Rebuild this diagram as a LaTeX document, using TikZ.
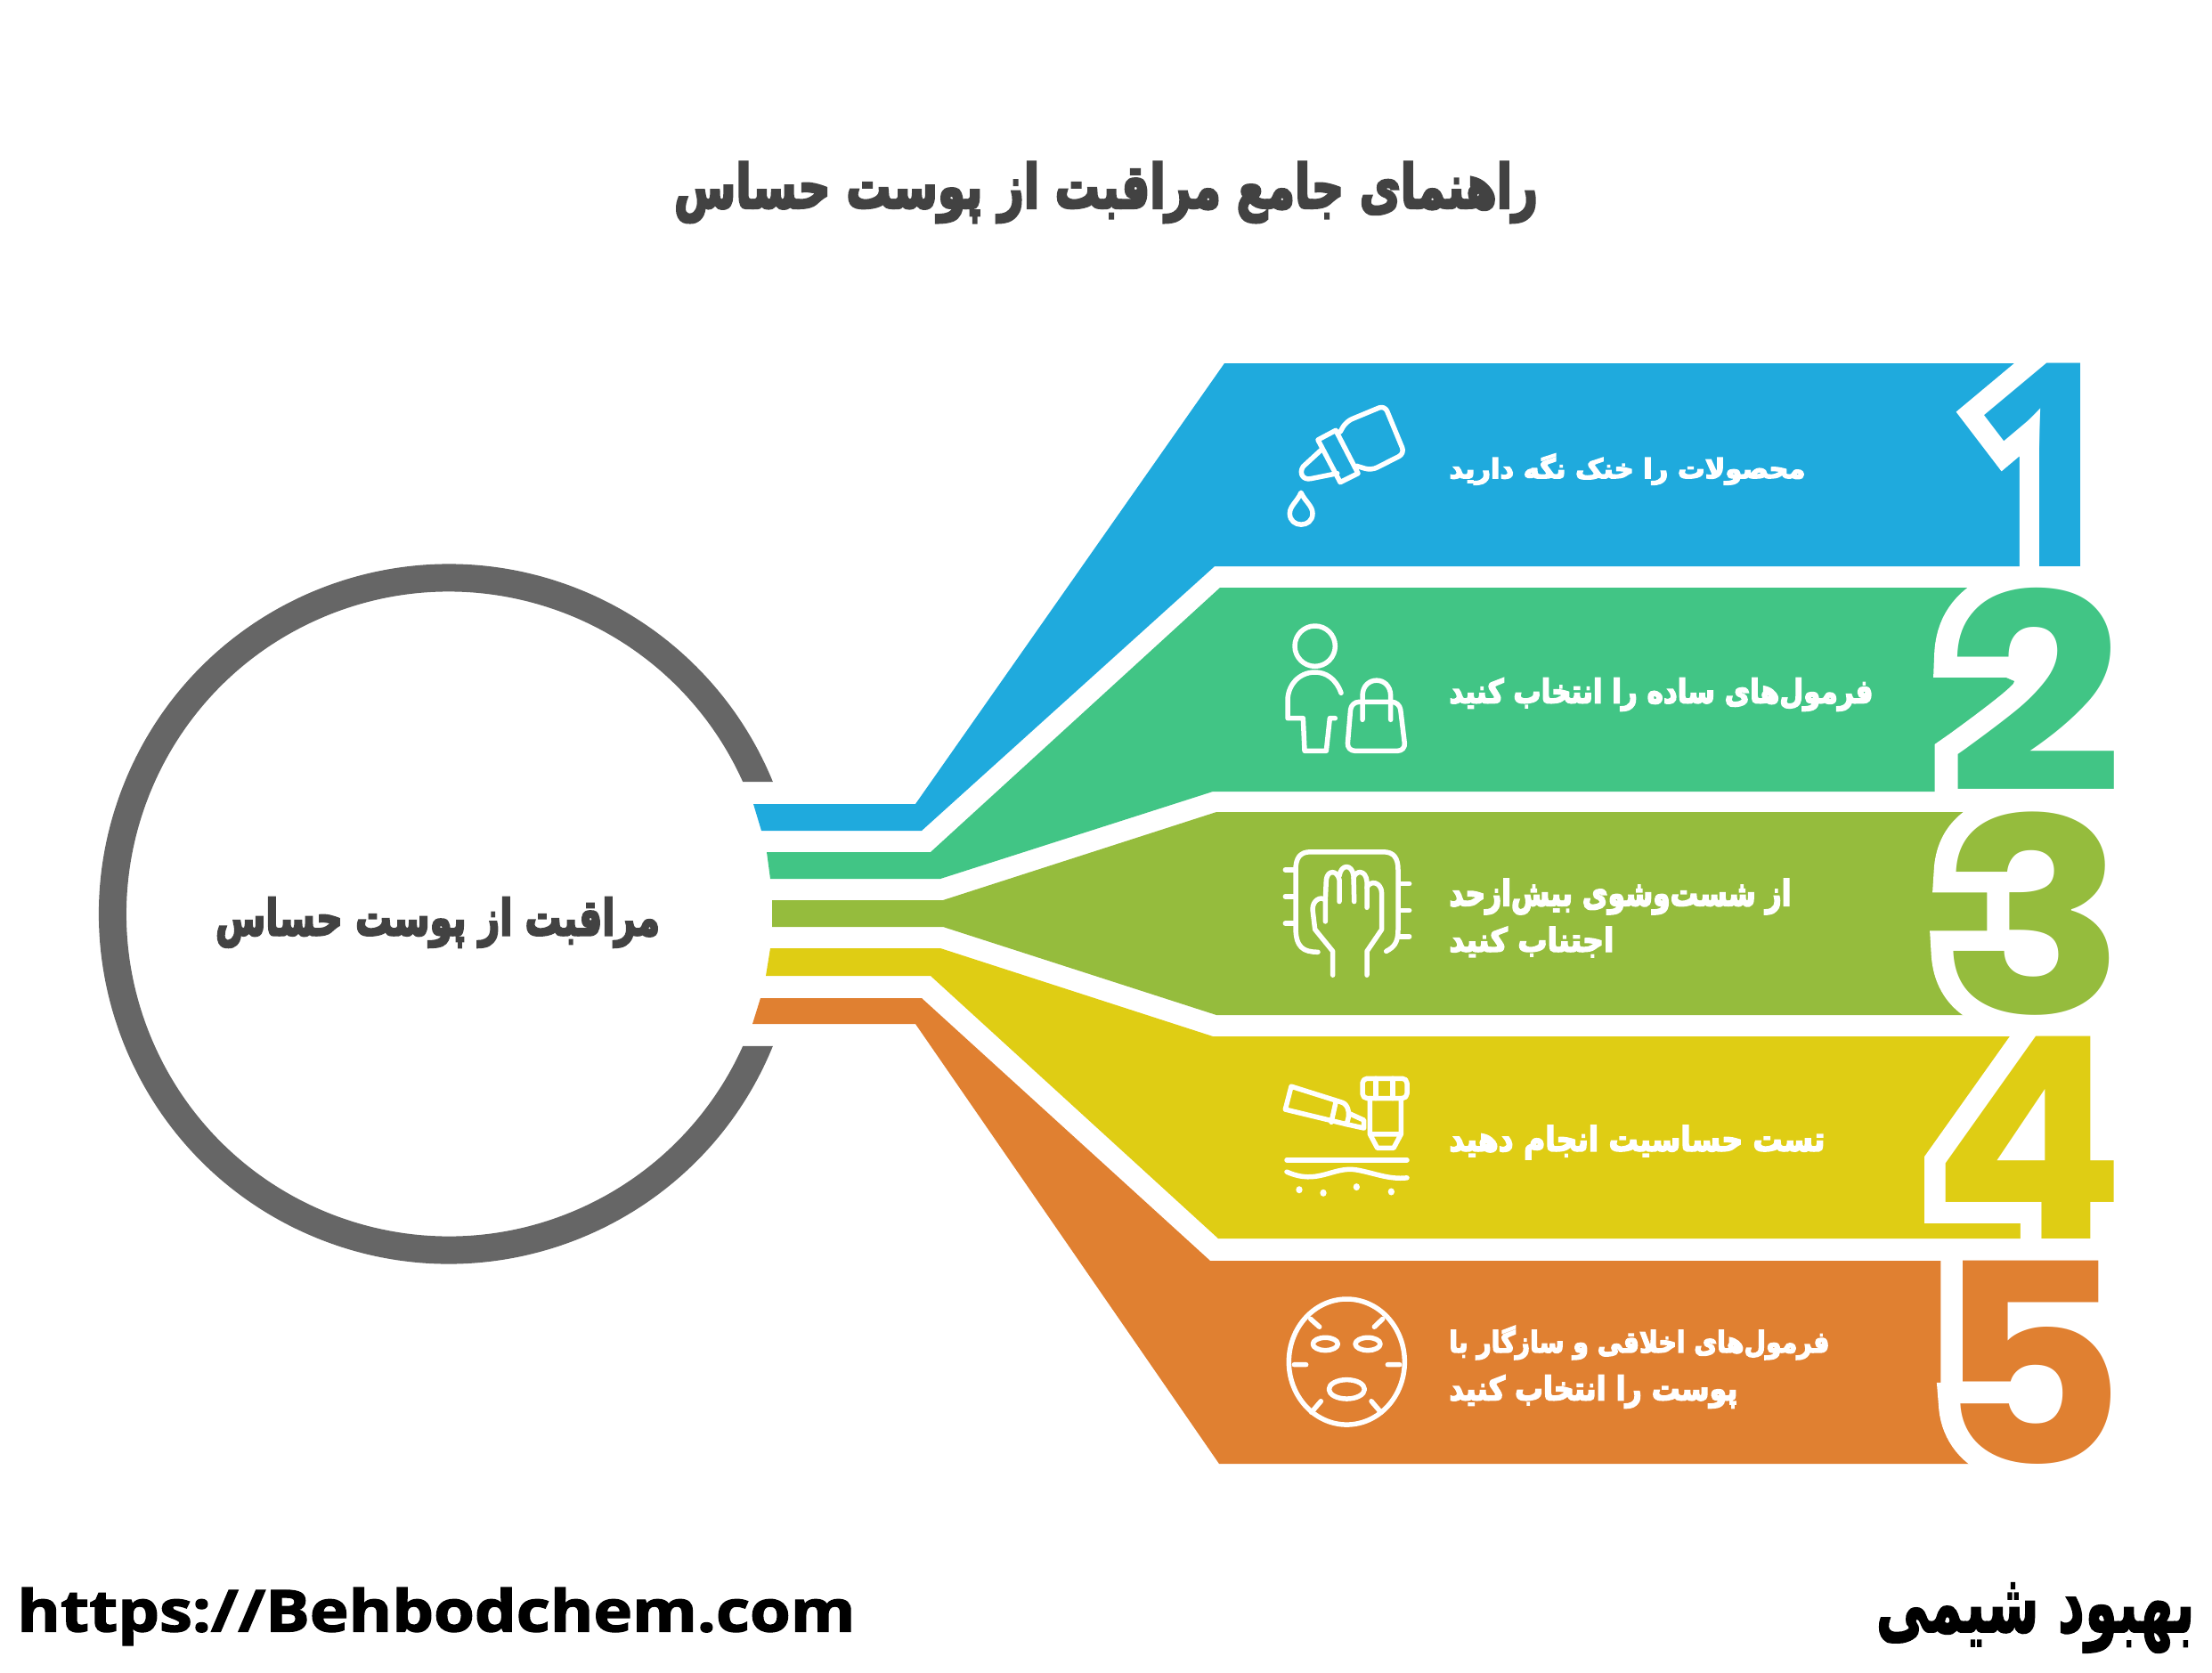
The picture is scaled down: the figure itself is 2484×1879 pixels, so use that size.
\documentclass[tikz,border=0pt]{standalone}
\usepackage{fontspec,graphicx,xcolor}
\usetikzlibrary{calc}
\TeXXeTstate=1
\newfontfamily\fafont[Script=Arabic,BoldFeatures={FakeBold=4.5}]{DejaVu Sans}
\newfontfamily\brandfont[Script=Arabic,BoldFeatures={FakeBold=1.5}]{DejaVu Sans}
\newfontfamily\urlfont[BoldFeatures={FakeBold=2}]{Open Sans}
\newfontfamily\onefont{Open Sans}
\newfontfamily\oneline[BoldFeatures={FakeBold=15}]{Open Sans}
\newfontfamily\numfont{Poppins}
\newfontfamily\numline[BoldFeatures={FakeBold=15}]{Poppins}
\definecolor{bandblue}{HTML}{1FAADD}
\definecolor{bandgreen}{HTML}{41C585}
\definecolor{bandolive}{HTML}{95BC3D}
\definecolor{bandyellow}{HTML}{DFCD14}
\definecolor{bandorange}{HTML}{E08031}
\definecolor{ringgray}{HTML}{666666}
\definecolor{titledark}{HTML}{424242}
\newlength{\pxu}
\setlength{\pxu}{0.02cm}
\newcommand{\fatxt}[3]{\resizebox*{#1\pxu}{#2\pxu}{\fafont\bfseries #3}}
\newcommand{\stepnum}[7]{% name, x, y, width, height, colour, digit
	\node[numnode, white] (#1o) at (#2,#3) {\resizebox*{#4\pxu}{#5\pxu}{\numline\bfseries #7}};
	\node[numnode, #6] (#1) at (#2,#3) {\resizebox*{#4\pxu}{#5\pxu}{\numfont\bfseries #7}};
}
\tikzset{
	numnode/.style={inner sep=0pt, outer sep=0pt},
	bandlabel/.style={inner sep=0pt, anchor=west, text=white},
	iconline/.style={draw=white, line width=5.5\pxu, line cap=round, line join=round},
}

\begin{document}
\begin{tikzpicture}[x=0.02cm, y=-0.02cm]
	\useasboundingbox (0,0) rectangle (2484,1879);

	\node[inner sep=0pt, text=titledark] (title) at (1242,216) {\fatxt{970}{68}{\beginR راهنمای جامع مراقبت از پوست حساس\endR}};

	% ring round the topic
	\coordinate (hub) at (504,1026.5);
	\fill[ringgray] ($(hub)+(22.2:393)$) arc[start angle=22.2, end angle=337.8, radius=393] -- ($(hub)+(-24.2:362)$) arc[start angle=335.8, end angle=24.2, radius=362] -- cycle;
	\node[inner sep=0pt, text=titledark] (topic) at (491.5,1036) {\fatxt{499}{56}{\beginR مراقبت از پوست حساس\endR}};

	% bands
	\fill[bandblue] (846,903) -- (1028,903) -- (1375,408) -- (2337,408) -- (2337,636) -- (1364,636) -- (1035,933) -- (855,933) -- cycle;
	\fill[bandgreen] (861,957) -- (1045,957) -- (1370,660) -- (2240,660) -- (2215,745) -- (2262,765) -- (2225,850) -- (2225,889) -- (1362,889) -- (1056,987) -- (865,987) -- cycle;
	\fill[bandolive] (867,1011) -- (1059,1011) -- (1366,912) -- (2240,912) -- (2215,990) -- (2260,1010) -- (2260,1040) -- (2210,1060) -- (2210,1100) -- (2230,1140) -- (1366,1140) -- (1059,1041) -- (867,1041) -- cycle;
	\fill[bandyellow] (865,1065) -- (1056,1065) -- (1362,1164) -- (2275,1164) -- (2200,1320) -- (2200,1365) -- (2290,1365) -- (2290,1391) -- (1368,1391) -- (1045,1096) -- (860,1096) -- cycle;
	\fill[bandorange] (854,1121) -- (1035,1121) -- (1359,1416) -- (2220,1416) -- (2215,1560) -- (2215,1590) -- (2225,1644) -- (1369,1644) -- (1028,1150) -- (845,1150) -- cycle;

	% digits
	\node[numnode, white] (num1o) at (2298,522) {\resizebox*{174\pxu}{228\pxu}{\oneline\bfseries 1}};
	\node[numnode, bandblue] (num1) at (2298,522) {\resizebox*{174\pxu}{228\pxu}{\onefont\bfseries 1}};
	\stepnum{num2}{2285}{774.5}{199}{229}{bandgreen}{2}
	\stepnum{num3}{2284}{1026}{208}{228}{bandolive}{3}
	\stepnum{num4}{2278}{1277.5}{217}{227}{bandyellow}{4}
	\stepnum{num5}{2280}{1530}{212}{228}{bandorange}{5}

	% labels
	\node[bandlabel] (label1) at (1627,527) {\fatxt{400}{35}{\beginR محصولات را خنک نگه دارید\endR}};
	\node[bandlabel] (label2) at (1627,780) {\fatxt{476}{37}{\beginR فرمول‌های ساده را انتخاب کنید\endR}};
	\node[bandlabel] (label3a) at (1627,1007) {\fatxt{384}{40}{\beginR از شست‌وشوی بیش‌ازحد\endR}};
	\node[bandlabel] (label3b) at (1627,1058) {\fatxt{185}{34}{\beginR اجتناب کنید\endR}};
	\node[bandlabel] (label4) at (1627,1283) {\fatxt{422}{38}{\beginR تست حساسیت انجام دهید\endR}};
	\node[bandlabel] (label5a) at (1627,1508) {\fatxt{427}{38}{\beginR فرمول‌های اخلاقی و سازگار با\endR}};
	\node[bandlabel] (label5b) at (1627,1563) {\fatxt{324}{37}{\beginR پوست را انتخاب کنید\endR}};

	% footer
	\node[inner sep=0pt, anchor=west] (site) at (19,1815.5) {\resizebox*{941\pxu}{65\pxu}{\urlfont\bfseries https://Behbodchem.com}};
	\node[inner sep=0pt, anchor=east] (brand) at (2465,1817) {\resizebox*{358\pxu}{79\pxu}{\brandfont\bfseries\beginR بهبود شیمی\endR}};

	% dropper
	\begin{scope}[shift={(1400,420)}, xscale=1/3, yscale=1/3]
		\draw[iconline] [rounded corners=4pt] (370,310) -- (420,325) -- (532,268) -- (465,106) -- (335,160) -- (315,195);
		\draw[iconline] (240,222) -- (300,190) -- (375,335) -- (315,365) -- cycle;
		\draw[iconline] (252,255) -- (190,312) .. controls (175,335) and (190,358) .. (215,353) -- (305,335);
		\draw[iconline] (183,400) .. controls (170,430) and (145,445) .. (145,470) .. controls (145,520) and (222,520) .. (222,470) .. controls (222,445) and (197,430) .. (183,400) -- cycle;
		% person and bag
		\draw[iconline] (230,917) ellipse[x radius=68, y radius=68];
		\draw[iconline] (318,1075) .. controls (300,1025) and (265,1005) .. (230,1005) .. controls (175,1005) and (138,1050) .. (138,1100) -- (138,1160) -- (190,1160) -- (195,1270) -- (268,1270) -- (280,1160) -- (298,1160);
		\draw[iconline] [rounded corners=5pt] (352,1105) -- (515,1105) -- (535,1270) -- (338,1270) -- cycle;
		\draw[iconline] (390,1165) -- (390,1085) .. controls (390,1015) and (485,1015) .. (485,1085) -- (485,1165);
	\end{scope}

	% hand on pad
	\begin{scope}[shift={(1400,930)}, xscale=1/3, yscale=1/2.24]
		\draw[iconline] (240,312) .. controls (190,312) and (165,300) .. (165,250) -- (165,105) .. controls (165,75) and (180,60) .. (215,60) -- (460,60) .. controls (495,60) and (510,75) .. (510,105) -- (510,255) .. controls (510,290) and (495,300) .. (470,310);
		\foreach \ty in {105,172,240}
			\draw[iconline] (130,\ty) -- (165,\ty);
		\foreach \ty in {140,207,273}
			\draw[iconline] (512,\ty) -- (548,\ty);
		\draw[iconline] (290,370) -- (290,310) -- (230,255) -- (222,205) .. controls (222,180) and (250,172) .. (265,180) -- (265,235);
		\draw[iconline] (265,180) -- (268,130) .. controls (272,105) and (305,105) .. (312,130) -- (312,185);
		\draw[iconline] (312,120) .. controls (318,90) and (355,90) .. (360,120) -- (362,185);
		\draw[iconline] (360,125) .. controls (368,105) and (402,105) .. (405,135) -- (405,200);
		\draw[iconline] (405,150) .. controls (415,130) and (455,135) .. (455,165) -- (455,255) -- (405,310) -- (405,370);
		% tube and lens
		\draw[iconline] (150,650) -- (320,690) .. controls (345,695) and (350,725) .. (335,745) -- (130,708) -- cycle;
		\draw[iconline] (300,690) -- (285,740);
		\draw[iconline] (345,718) -- (395,735) -- (395,755) -- (335,745);
		\draw[iconline] [rounded corners=3pt] (390,630) -- (540,630) -- (540,680) -- (390,680) -- cycle;
		\draw[iconline] (435,630) -- (435,680) (492,630) -- (492,680);
		\draw[iconline] (415,680) -- (415,770) -- (440,805) -- (495,805) -- (520,770) -- (520,680) (415,770) -- (520,770);
		\draw[iconline] (135,835) -- (540,835);
		\draw[iconline] (135,865) .. controls (240,900) and (290,850) .. (370,860) .. controls (430,868) and (480,885) .. (540,880);
		\foreach \dx/\dy in {177/910,258/918,370/903,487/915}
			\fill[white] (\dx,\dy) ellipse[x radius=11, y radius=9];
		% face mask
		\draw[iconline] (337,1343) ellipse[x radius=195, y radius=158];
		\draw[iconline] (265,1298) ellipse[x radius=42, y radius=16];
		\draw[iconline] (408,1298) ellipse[x radius=42, y radius=16];
		\draw[iconline] (337,1412) ellipse[x radius=60, y radius=24];
		\draw[iconline] (215,1235) -- (245,1255) (458,1235) -- (430,1255) (160,1350) -- (200,1350) (475,1350) -- (515,1350) (250,1442) -- (218,1470) (420,1442) -- (452,1470);
	\end{scope}
\end{tikzpicture}
\end{document}
